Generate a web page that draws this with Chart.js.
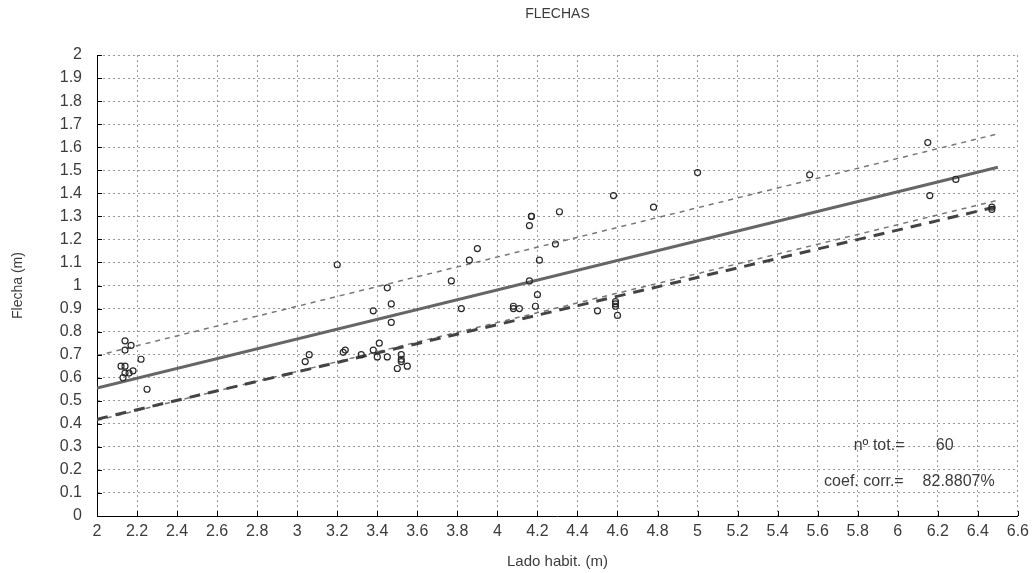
<!DOCTYPE html>
<html>
<head>
<meta charset="utf-8">
<script src="https://cdn.jsdelivr.net/npm/chart.js@4/dist/chart.umd.min.js"></script>
<style>
html,body{margin:0;padding:0;background:#fff;}
#wrap{width:1035px;height:573px;}
</style>
</head>
<body>
<div id="wrap"><canvas id="c" width="1035" height="573"></canvas></div>
<script>
// ---- data ----
const ladoX = [
  2.14, 2.17, 2.14, 2.22, 2.12, 2.14, 2.14, 2.16, 2.18, 2.13, 2.25,
  3.20, 3.45, 3.47, 3.38, 3.47, 3.41, 3.24, 3.23, 3.06, 3.04, 3.32, 3.38, 3.40, 3.45, 3.52, 3.52, 3.52, 3.50, 3.55,
  4.58, 4.31, 4.17, 4.16, 3.90, 3.86, 4.29, 4.21, 3.77, 4.16, 3.82, 4.20, 4.08, 4.08, 4.11, 4.19, 4.50, 4.59, 4.59, 4.60,
  4.78, 5.00, 5.56, 6.15, 6.16, 6.29, 6.47,
  6.47, 4.17, 4.59
];
const flechaY = [
  0.76, 0.74, 0.72, 0.68, 0.65, 0.65, 0.62, 0.62, 0.63, 0.60, 0.55,
  1.09, 0.99, 0.92, 0.89, 0.84, 0.75, 0.72, 0.71, 0.70, 0.67, 0.70, 0.72, 0.69, 0.69, 0.70, 0.68, 0.67, 0.64, 0.65,
  1.39, 1.32, 1.30, 1.26, 1.16, 1.11, 1.18, 1.11, 1.02, 1.02, 0.90, 0.96, 0.91, 0.90, 0.90, 0.91, 0.89, 0.93, 0.91, 0.87,
  1.34, 1.49, 1.48, 1.62, 1.39, 1.46, 1.33,
  1.34, 1.30, 0.92
];
const lineX = [2, 6.5];
const fitY = [0.555, 1.513];
const upperY = [0.696, 1.658];
const lowerY = [0.415, 1.370];
const altFitY = [0.420, 1.343];
const xTicks = [2,2.2,2.4,2.6,2.8,3,3.2,3.4,3.6,3.8,4,4.2,4.4,4.6,4.8,5,5.2,5.4,5.6,5.8,6,6.2,6.4,6.6];
const yTicks = [0,0.1,0.2,0.3,0.4,0.5,0.6,0.7,0.8,0.9,1,1.1,1.2,1.3,1.4,1.5,1.6,1.7,1.8,1.9,2];
const titleText = 'FLECHAS';
const xTitle = 'Lado habit. (m)';
const yTitle = 'Flecha (m)';
const nTotLabel = 'nº tot.=', nTotValue = '60';
const corrLabel = 'coef. corr.=', corrValue = '82.8807%';

const pts = ladoX.map((x,i)=>({x:x,y:flechaY[i]}));
const mk = (ys)=>lineX.map((x,i)=>({x:x,y:ys[i]}));

const FONT = "'Liberation Sans', Arial, sans-serif";
const TXT = '#3c3c3c';

const extras = {
  id:'extras',
  afterDatasetsDraw(chart){
    const {ctx, chartArea:a, scales:{x,y}} = chart;
    ctx.save();
    ctx.strokeStyle='#000'; ctx.lineWidth=1;
    ctx.beginPath();
    xTicks.forEach(v=>{const p=Math.round(x.getPixelForValue(v))+0.5; ctx.moveTo(p,a.bottom); ctx.lineTo(p,a.bottom-5);});
    yTicks.forEach(v=>{const p=Math.round(y.getPixelForValue(v))+0.5; ctx.moveTo(a.left,p); ctx.lineTo(a.left+5,p);});
    ctx.stroke();
    ctx.fillStyle=TXT;
    ctx.font='16px '+FONT;
    ctx.textBaseline='middle';
    ctx.textAlign='left';
    ctx.fillText(nTotLabel, x.getPixelForValue(5.78), y.getPixelForValue(0.304));
    ctx.fillText(nTotValue, x.getPixelForValue(6.19), y.getPixelForValue(0.304));
    ctx.fillText(corrLabel, x.getPixelForValue(5.632), y.getPixelForValue(0.148));
    ctx.fillText(corrValue, x.getPixelForValue(6.124), y.getPixelForValue(0.148));
    // title centred over the plot area
    ctx.font='14px '+FONT;
    ctx.textAlign='center';
    ctx.fillText(titleText, (a.left+a.right)/2, 14);
    ctx.restore();
  }
};

new Chart(document.getElementById('c'), {
  type:'scatter',
  data:{datasets:[
    {data:pts, showLine:false, pointStyle:'circle', pointRadius:3, pointBorderWidth:1.2,
     pointBorderColor:'#2a2a2a', pointBackgroundColor:'rgba(255,255,255,0)', order:0},
    {data:mk(fitY), showLine:true, borderColor:'#666', borderWidth:3, pointRadius:0, order:3},
    {data:mk(upperY), showLine:true, borderColor:'#777', borderWidth:1.5, borderDash:[5,5], pointRadius:0, order:2},
    {data:mk(lowerY), showLine:true, borderColor:'#777', borderWidth:1.5, borderDash:[5,5], pointRadius:0, order:2},
    {data:mk(altFitY), showLine:true, borderColor:'#444', borderWidth:3, borderDash:[11,8], pointRadius:0, order:1}
  ]},
  options:{
    responsive:false, animation:false,
    layout:{padding:{left:0,right:13,top:55,bottom:0}},
    plugins:{
      legend:{display:false}, tooltip:{enabled:false}, title:{display:false}
    },
    scales:{
      x:{type:'linear', min:2, max:6.6,
        afterBuildTicks(s){s.ticks = xTicks.map(v=>({value:v}));},
        afterFit(s){s.height=57;},
        grid:{color:'#9a9a9a', lineWidth:1, drawTicks:false},
        border:{display:true, color:'#000', width:1, dash:[2,3]},
        ticks:{color:TXT, font:{family:FONT,size:16}, padding:6, maxRotation:0, autoSkip:false, callback:v=>String(v)},
        title:{display:true, text:xTitle, color:TXT, font:{family:FONT,size:15,lineHeight:1.2}, padding:{top:0,bottom:2}}
      },
      y:{type:'linear', min:0, max:2,
        afterBuildTicks(s){s.ticks = yTicks.map(v=>({value:v}));},
        afterFit(s){s.width=97;},
        grid:{color:'#9a9a9a', lineWidth:1, drawTicks:false},
        border:{display:true, color:'#000', width:1, dash:[2,3]},
        ticks:{color:TXT, font:{family:FONT,size:16}, padding:15, autoSkip:false, callback:v=>String(v)},
        title:{display:true, text:yTitle, color:TXT, font:{family:FONT,size:14,lineHeight:1.2}, padding:{top:10,bottom:0}}
      }
    }
  },
  plugins:[extras]
});
</script>
</body>
</html>
